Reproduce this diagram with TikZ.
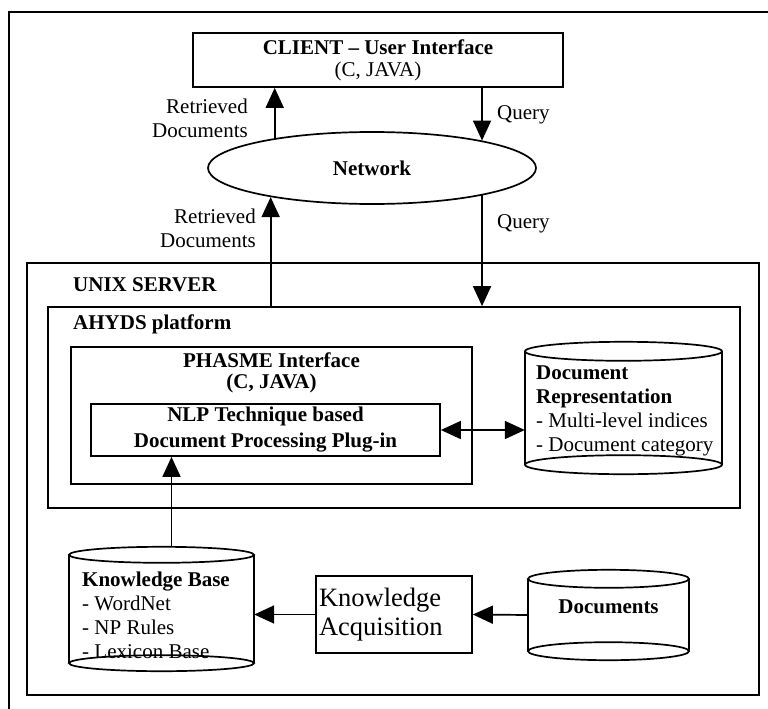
\documentclass[tikz,border=0pt]{standalone}
\usepackage{fontspec}
\setmainfont{Liberation Serif}
\usetikzlibrary{shapes,arrows.meta,calc}

\tikzset{
	rim/.style={line width=1.7pt},
	box/.style={draw, rim, rectangle, inner sep=0pt},
	disk/.style={inner sep=0pt},
	txt/.style={font=\fontsize{21}{24}\selectfont, inner sep=0pt},
	txtb/.style={font=\fontsize{21}{24}\selectfont\bfseries, inner sep=0pt},
	arr/.style={line width=1.7pt, -{Triangle[length=20pt,width=18pt]}},
	dblarr/.style={line width=1.7pt, {Triangle[length=20pt,width=18pt]}-{Triangle[length=20pt,width=18pt]}}
}

\newcommand{\drawdisk}[3]{%
	\draw[rim] ([yshift=-#3pt]#1.north west) -- ([yshift=#3pt]#1.south west);
	\draw[rim] ([yshift=-#3pt]#1.north east) -- ([yshift=#3pt]#1.south east);
	\draw[rim] ([yshift=-#3pt]#1.north) ellipse (#2pt and #3pt);
	\draw[rim] ([yshift=#3pt]#1.south) ellipse (#2pt and #3pt);
}

\begin{document}
\begin{tikzpicture}[x=1pt,y=-1pt]
			\useasboundingbox (0,0) rectangle (768,709);
			\clip (0,0) rectangle (768,709);
			\draw[rim] (9,12) rectangle (800,740);
			
			\node[box, txt, minimum width=370, minimum height=54, align=center] (client) at (378,60) {\textbf{CLIENT -- User Interface}\\[-2pt](C, JAVA)};
			\node[draw, rim, ellipse, txtb, minimum width=328, minimum height=72] (net) at (372,168) {Network};
			
			\node[txt, anchor=east, align=right] (ret1) at (248,118) {Retrieved\\Documents};
			\node[txt, anchor=west] (qry1) at (497,115) {Query};
			\node[txt, anchor=east, align=right] (ret2) at (256,228) {Retrieved\\Documents};
			\node[txt, anchor=west] (qry2) at (497,224) {Query};
			
			\node[box, minimum width=732, minimum height=432] (unix) at (393,479) {};
			\node[txtb, anchor=west] (unixlbl) at (73,285) {UNIX SERVER};
			\node[box, minimum width=692, minimum height=201] (ahyds) at (394,407.5) {};
			\node[txtb, anchor=west] (ahydslbl) at (73,324) {AHYDS platform};
			\node[box, minimum width=401, minimum height=137] (phasme) at (271.5,415.5) {};
			\node[txtb, align=center] (phasmelbl) at (271.5,372.5) {PHASME Interface\\[-3pt](C, JAVA)};
			\node[box, txtb, minimum width=349, minimum height=52, align=center] (nlp) at (265.5,430) {NLP Technique based\\[2pt]Document Processing Plug-in};
			
			\node[disk, minimum width=197, minimum height=132] (docrep) at (623.5,408) {};
			\drawdisk{docrep}{98.5}{9.5}
			\node[txt, anchor=west, align=left] (docreplbl) at (536,411) {\textbf{Document}\\\textbf{Representation}\\- Multi-level indices\\- Document category};
			
			\node[disk, minimum width=185, minimum height=124] (kb) at (161.5,609) {};
			\drawdisk{kb}{92.5}{8}
			\node[txt, anchor=west, align=left] (kblbl) at (82,615) {\textbf{Knowledge Base}\\- WordNet\\- NP Rules\\- Lexicon Base};
			
			\node[box, minimum width=156, minimum height=77, text width=150, inner xsep=3pt, align=left, font=\fontsize{26.5}{29}\selectfont] (ka) at (394,614.5) {Knowledge\\Acquisition};
			
			\node[disk, minimum width=161, minimum height=90] (docs) at (608.5,615) {};
			\drawdisk{docs}{80.5}{9}
			\node[txtb] (docslbl) at (608.5,607) {Documents};
			
			\draw[arr] (net.163) -- (net.163 |- client.south);
			\draw[arr] (client.south -| net.14) -- (net.14);
			\draw[arr] (ahyds.north -| net.-164) -- (net.-164);
			\draw[arr] (net.-14) -- (net.-14 |- ahyds.north);
			\draw[dblarr] (nlp.east) -- (nlp.east -| docrep.west);
			\draw[arr] ([xshift=10pt]kb.north) -- ([xshift=10pt]kb.north |- nlp.south);
			\draw[arr] (ka.west) -- (ka.west -| kb.east);
			\draw[arr] (docs.west) -- (ka.east);
		\end{tikzpicture}
\end{document}
